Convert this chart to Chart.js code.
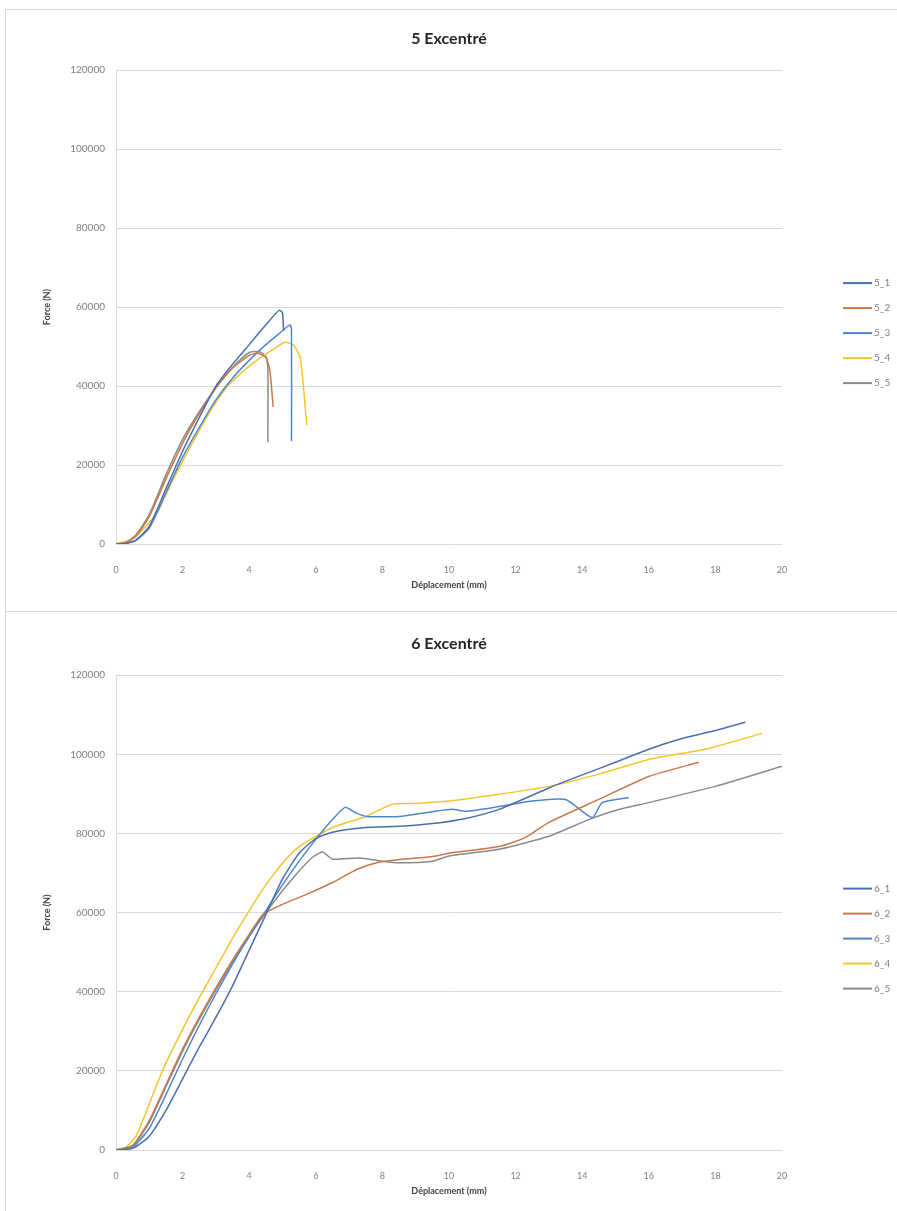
<!DOCTYPE html>
<html>
<head>
<meta charset="utf-8">
<script src="https://cdn.jsdelivr.net/npm/chart.js@4.4.1/dist/chart.umd.min.js"></script>
<style>
  body { margin: 0; background: #fff; }
  .box { position: absolute; left: 5px; width: 891px; background: #fff; border-left: 1px solid #d9d9d9; }
  #b5 { top: 9px; height: 601px; border-top: 1px solid #d9d9d9; border-bottom: 1px solid #d9d9d9; }
  #b6 { top: 612px; height: 602px; }
  canvas { display: block; }
</style>
</head>
<body>
<div class="box" id="b5"><canvas id="c5" width="891" height="598"></canvas></div>
<div class="box" id="b6"><canvas id="c6" width="891" height="602"></canvas></div>
<script>
// axis ticks
const xTicks = [0, 2, 4, 6, 8, 10, 12, 14, 16, 18, 20];
const yTicks = [0, 20000, 40000, 60000, 80000, 100000, 120000];

// series colours (Excel-like)
const colors = ["#4a6fae", "#c8784a", "#4f86d0", "#f2c52e", "#8a8a8a"];

// 5 Excentré : [déplacement mm, force N]
const names5 = ["5_1", "5_2", "5_3", "5_4", "5_5"];
const s5_1 = [[0,0],[0.3,200],[0.6,1000],[1.0,4500],[1.5,14000],[2.0,23500],[2.5,32000],[3.0,40000],[3.5,45500],[4.0,50500],[4.5,55500],[4.9,59200],[5.0,58500],[5.03,54000]];
const s5_2 = [[0,0],[0.3,400],[0.6,2000],[1.0,7000],[1.5,16500],[2.0,25500],[2.5,33000],[3.0,39500],[3.5,44500],[4.0,47800],[4.25,48300],[4.5,47300],[4.62,44000],[4.72,34700]];
const s5_3 = [[0,0],[0.3,150],[0.6,900],[1.0,4000],[1.5,13000],[2.0,22000],[2.5,29500],[3.0,36500],[3.5,42000],[4.0,46500],[4.5,50500],[5.0,54000],[5.22,55500],[5.27,54500],[5.27,26000]];
const s5_4 = [[0,0],[0.5,1200],[0.9,4500],[1.23,7800],[1.71,16200],[2.13,23000],[2.73,32200],[3.33,39800],[4.11,45800],[4.83,49900],[5.07,51100],[5.32,50400],[5.53,47300],[5.73,30100]];
const s5_5 = [[0,0],[0.3,500],[0.6,2300],[1.0,7500],[1.5,17500],[2.0,26500],[2.5,33500],[3.0,39600],[3.5,44700],[4.0,48500],[4.3,48700],[4.5,47500],[4.56,44000],[4.56,25800]];

// 6 Excentré
const names6 = ["6_1", "6_2", "6_3", "6_4", "6_5"];
const s6_1 = [[0,0],[0.5,400],[1,3500],[1.5,10000],[2,18000],[2.5,26000],[3,33500],[3.5,41500],[4,50500],[4.5,59500],[5,68500],[5.5,75000],[6,78700],[6.5,80300],[7.5,81500],[8.5,81800],[9.5,82500],[10.5,83800],[11.5,86100],[13,91500],[14,94800],[15,98000],[16,101300],[17,104000],[18,106000],[18.9,108100]];
const s6_2 = [[0,0],[0.5,1200],[1,7500],[1.5,16500],[2,25500],[2.5,33500],[3,41000],[3.5,48000],[4,54500],[4.41,59500],[4.92,61800],[5.83,65000],[6.5,67600],[7.23,70900],[7.83,72600],[8.53,73400],[9.52,74200],[10,75000],[11.5,76700],[12.3,79000],[13,82800],[14.5,88600],[16,94400],[17.5,98000]];
const s6_3 = [[0,0],[0.5,700],[1,5500],[1.5,14000],[2,23000],[2.5,31500],[3,39500],[3.5,47000],[4,54000],[4.5,60500],[5,67000],[5.5,73000],[6,78500],[6.5,83500],[6.88,86600],[7.2,85200],[7.53,84300],[8.5,84300],[9.5,85500],[10.1,86100],[10.5,85600],[11.5,86800],[12.4,88100],[13.5,88600],[14.3,84000],[14.6,87800],[15.4,89100]];
const s6_4 = [[0,0],[0.3,700],[0.6,3500],[0.9,9500],[1.2,16000],[1.5,22000],[2,30500],[2.5,38500],[3,46000],[3.5,53500],[4,60500],[4.5,67000],[5,72500],[5.5,76700],[6.5,81500],[7.5,84300],[8.3,87400],[9,87600],[10,88200],[11.5,89900],[13,91900],[14.5,95000],[16,98700],[17.8,101500],[19.4,105300]];
const s6_5 = [[0,0],[0.5,1000],[1,7000],[1.5,16000],[2,25000],[2.5,33000],[3,40500],[3.5,47500],[4,54000],[4.5,60000],[5,65500],[5.5,70500],[5.9,74000],[6.2,75300],[6.5,73500],[7.3,73800],[8,73000],[8.5,72600],[9.5,73000],[10,74300],[11.5,76000],[13,79300],[14.2,83500],[15,85800],[16,87800],[18,91900],[20,97000]];

// legend drawn on the right, like Excel
const sideLegend = {
  id: "sideLegend",
  afterDraw(chart) {
    const { ctx, chartArea } = chart;
    const sets = chart.data.datasets;
    const mid = (chartArea.top + chartArea.bottom) / 2 + 26;
    sets.forEach((ds, i) => {
      const y = mid + (i - (sets.length - 1) / 2) * 25;
      ctx.save();
      ctx.strokeStyle = ds.borderColor;
      ctx.lineWidth = 2;
      ctx.beginPath();
      ctx.moveTo(chartArea.right + 61, y);
      ctx.lineTo(chartArea.right + 90, y);
      ctx.stroke();
      ctx.fillStyle = "#7f7f7f";
      ctx.font = "10px Lato";
      ctx.textBaseline = "middle";
      ctx.fillText(ds.label, chartArea.right + 92, y);
      ctx.restore();
    });
  }
};

function makeChart(id, title, names, series, padTop) {
  new Chart(document.getElementById(id), {
    type: "line",
    data: {
      datasets: series.map((s, i) => ({
        label: names[i],
        data: s.map(p => ({ x: p[0], y: p[1] })),
        borderColor: colors[i],
        borderWidth: 1.5,
        pointRadius: 0,
        tension: 0.2,
        fill: false
      }))
    },
    options: {
      responsive: false,
      animation: false,
      layout: { padding: { top: padTop, right: 115, bottom: 0, left: 0 } },
      plugins: {
        legend: { display: false },
        tooltip: { enabled: false },
        title: {
          display: true,
          fullSize: false,
          text: title,
          color: "#262626",
          font: { family: "Lato", size: 16, weight: "bold" },
          padding: { top: 18, bottom: 22 }
        }
      },
      scales: {
        x: {
          type: "linear",
          min: 0,
          max: 20,
          afterBuildTicks: s => { s.ticks = xTicks.map(v => ({ value: v })); },
          afterFit: s => { s.height = 64; },
          grid: { display: false },
          border: { display: false },
          ticks: { color: "#7f7f7f", padding: 13, font: { family: "Lato", size: 9 } },
          title: {
            display: true,
            text: "Déplacement (mm)",
            color: "#404040",
            font: { family: "Lato", size: 9, weight: "bold" },
            padding: { top: 0, bottom: 17.5 }
          }
        },
        y: {
          min: 0,
          max: 120000,
          afterBuildTicks: s => { s.ticks = yTicks.map(v => ({ value: v })); },
          afterFit: s => { s.width = 110; },
          grid: { color: "#d9d9d9", drawTicks: false },
          border: { display: true, color: "#d9d9d9" },
          ticks: {
            color: "#7f7f7f",
            padding: 11,
            font: { family: "Lato", size: 10 },
            callback: v => String(v)
          },
          title: {
            display: true,
            text: "Force (N)",
            color: "#404040",
            font: { family: "Lato", size: 9, weight: "bold" },
            padding: { top: 35.5, bottom: 0 }
          }
        }
      }
    },
    plugins: [sideLegend]
  });
}

makeChart("c5", "5 Excentré", names5, [s5_1, s5_2, s5_3, s5_4, s5_5], 1);
makeChart("c6", "6 Excentré", names6, [s6_1, s6_2, s6_3, s6_4, s6_5], 4);
</script>
</body>
</html>
